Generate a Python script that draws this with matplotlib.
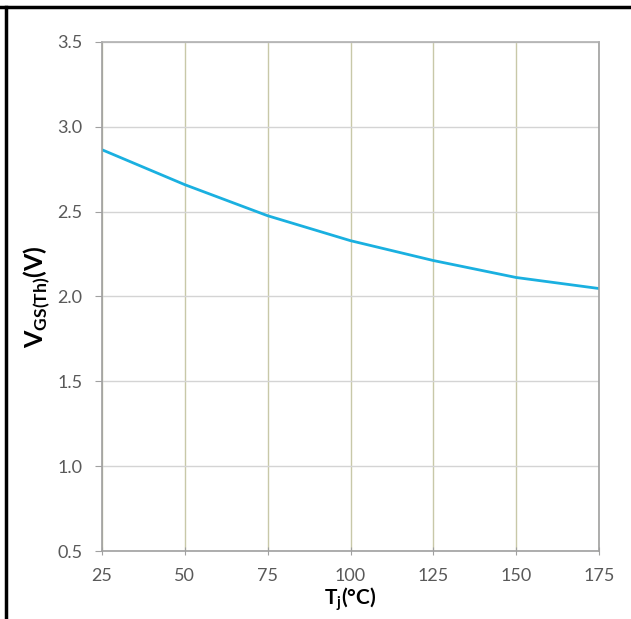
import numpy as np
import matplotlib
matplotlib.use("Agg")
import matplotlib.pyplot as plt
from matplotlib.lines import Line2D

# Datos
tj = [25, 50, 75, 100, 125, 150, 175]
vgs_th = [2.865, 2.659, 2.476, 2.329, 2.212, 2.112, 2.047]
xticks = [25, 50, 75, 100, 125, 150, 175]
yticks = [0.5, 1.0, 1.5, 2.0, 2.5, 3.0, 3.5]

plt.rcParams['font.family'] = ['Lato', 'DejaVu Sans']

fig = plt.figure(figsize=(6.31, 6.19), dpi=100)
ax = fig.add_axes([102/631, 1 - 551/619, (599-102)/631, (551-42)/619])

ax.plot(tj, vgs_th, color="#1ab0e0", linewidth=2)

ax.set_xlim(25, 175)
ax.set_ylim(0.5, 3.5)
ax.set_xticks(xticks)
ax.set_yticks(yticks)
ax.set_yticklabels([f"{v:.1f}" for v in yticks])

# Cuadricula: verticales oliva, horizontales gris
ax.grid(True, axis="x", color="#c8c8a8", linewidth=1)
ax.grid(True, axis="y", color="#d4d4d4", linewidth=1)

for s in ax.spines.values():
    s.set_color("#a0a0a0")
    s.set_linewidth(1.2)
ax.spines["top"].set_color("#b0b0b0")

ax.tick_params(axis="y", direction="out", length=5, color="#a0a0a0",
               labelcolor="#595959", labelsize=13, pad=9)
ax.tick_params(axis="x", direction="inout", length=6, color="#a0a0a0",
               labelcolor="#595959", labelsize=13, pad=9)

ax.set_xlabel(r"T$_\mathregular{j}$(°C)", fontsize=15, fontweight="bold", labelpad=1)
ax.set_ylabel(r"V$_\mathregular{GS(Th)}$(V)", fontsize=18, fontweight="bold", labelpad=4)

# Marco del documento
fig.add_artist(Line2D([0, 1], [1 - 7/619, 1 - 7/619], color="black", linewidth=2.5))
fig.add_artist(Line2D([6/631, 6/631], [0, 1 - 7/619], color="black", linewidth=2.5))

fig.savefig("out.png", dpi=100)
